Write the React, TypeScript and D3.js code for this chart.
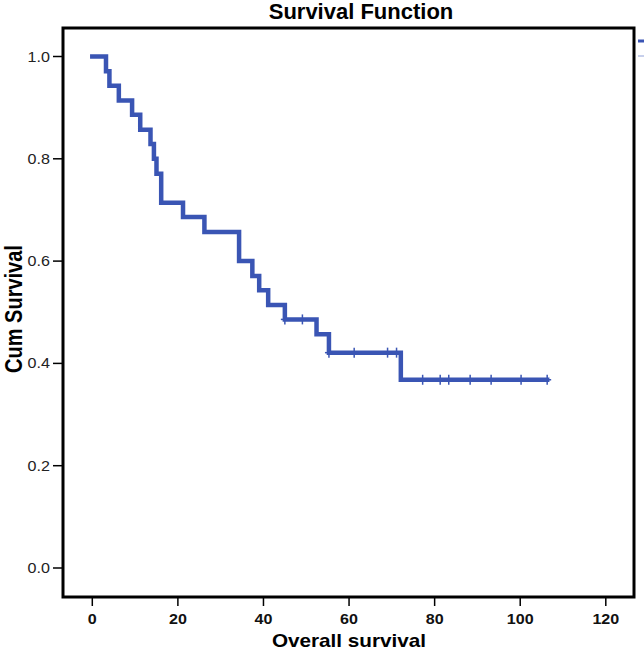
import React from "react";
import * as d3 from "d3";

// Kaplan-Meier steps (months, cumulative survival)
const eventTimes = [0, 3.2, 4, 6.2, 9.3, 11.2, 13.6, 14.4, 15, 16.1, 21.2, 26.2, 34.3, 37.4, 39, 41.1, 45, 52.4, 55.3, 72.1];
const eventSurvival = [1, 0.971, 0.943, 0.914, 0.886, 0.857, 0.829, 0.8, 0.771, 0.714, 0.686, 0.657, 0.6, 0.571, 0.543, 0.514, 0.486, 0.457, 0.421, 0.368];
const lastTime = 106.3;

const censorTimes = [45, 49.1, 55.3, 61.2, 69, 71.1, 77.2, 81.3, 83.3, 88.3, 93.2, 100.2, 106.3];
const censorSurvival = [0.486, 0.486, 0.421, 0.421, 0.421, 0.421, 0.368, 0.368, 0.368, 0.368, 0.368, 0.368, 0.368];

const xTicks = [0, 20, 40, 60, 80, 100, 120];
const yTicks = [0, 0.2, 0.4, 0.6, 0.8, 1.0];

const width = 644;
const height = 653;
const frame = { left: 63, right: 634, top: 28, bottom: 597 };
const blue = "#3a55b4";
const font = "'Liberation Sans', Arial, sans-serif";
const stretch = 1.15;

const App: React.FC = () => {
  const x = d3.scaleLinear().domain([0, 120]).range([92.3, 605.8]);
  const y = d3.scaleLinear().domain([0, 1]).range([568, 56.5]);

  const pts: [number, number][] = eventTimes.map((t, i) => [t, eventSurvival[i]]);
  pts.push([lastTime, eventSurvival[eventSurvival.length - 1]]);

  const line = d3
    .line<[number, number]>()
    .x((d) => x(d[0]))
    .y((d) => y(d[1]))
    .curve(d3.curveStepAfter);

  return (
    <svg
      width={width}
      height={height}
      style={{ position: "absolute", left: 0, top: 0, background: "#fff" }}
      fontFamily={font}
    >
      <rect x={0} y={0} width={width} height={height} fill="#fff" />
      <text x={361} y={19} textAnchor="middle" fontSize={22} fontWeight="bold" fill="#000">
        Survival Function
      </text>

      {/* legend, cut off at the right edge */}
      <line x1={638} x2={646} y1={41} y2={41} stroke={blue} strokeWidth={3} />
      <line x1={638} x2={646} y1={56} y2={56} stroke="#8fa0d8" strokeWidth={1} />

      {/* y axis ticks */}
      {yTicks.map((v) => (
        <g key={"y" + v}>
          <line x1={53} x2={frame.left} y1={y(v)} y2={y(v)} stroke="#000" strokeWidth={1.5} />
          <text
            transform={`translate(50,${y(v) + 5}) scale(${stretch},1)`}
            textAnchor="end"
            fontSize={14}
            fill="#222"
          >
            {d3.format(".1f")(v)}
          </text>
        </g>
      ))}

      {/* x axis ticks */}
      {xTicks.map((v) => (
        <g key={"x" + v}>
          <line x1={x(v)} x2={x(v)} y1={frame.bottom} y2={606} stroke="#000" strokeWidth={1.5} />
          <text
            transform={`translate(${x(v)},624) scale(${stretch},1)`}
            textAnchor="middle"
            fontSize={14}
            fontWeight="bold"
            fill="#111"
          >
            {v}
          </text>
        </g>
      ))}

      <text
        transform={`translate(349,647) scale(${stretch},1)`}
        textAnchor="middle"
        fontSize={18}
        fontWeight="bold"
        fill="#000"
      >
        Overall survival
      </text>
      <text
        transform={`translate(22,309) scale(${stretch},1) rotate(-90)`}
        textAnchor="middle"
        fontSize={20}
        fontWeight="bold"
        fill="#000"
      >
        Cum Survival
      </text>

      <path d={line(pts) ?? ""} fill="none" stroke={blue} strokeWidth={4.5} strokeLinejoin="miter" strokeLinecap="square" />

      {censorTimes.map((t, i) => (
        <g key={"c" + i} stroke={blue} strokeWidth={1.5}>
          <line x1={x(t)} x2={x(t)} y1={y(censorSurvival[i]) - 5} y2={y(censorSurvival[i]) + 5} />
          <line x1={x(t) - 4} x2={x(t) + 4} y1={y(censorSurvival[i])} y2={y(censorSurvival[i])} />
        </g>
      ))}

      <rect
        x={frame.left}
        y={frame.top}
        width={frame.right - frame.left}
        height={frame.bottom - frame.top}
        fill="none"
        stroke="#000"
        strokeWidth={3}
      />
    </svg>
  );
};

export default App;
